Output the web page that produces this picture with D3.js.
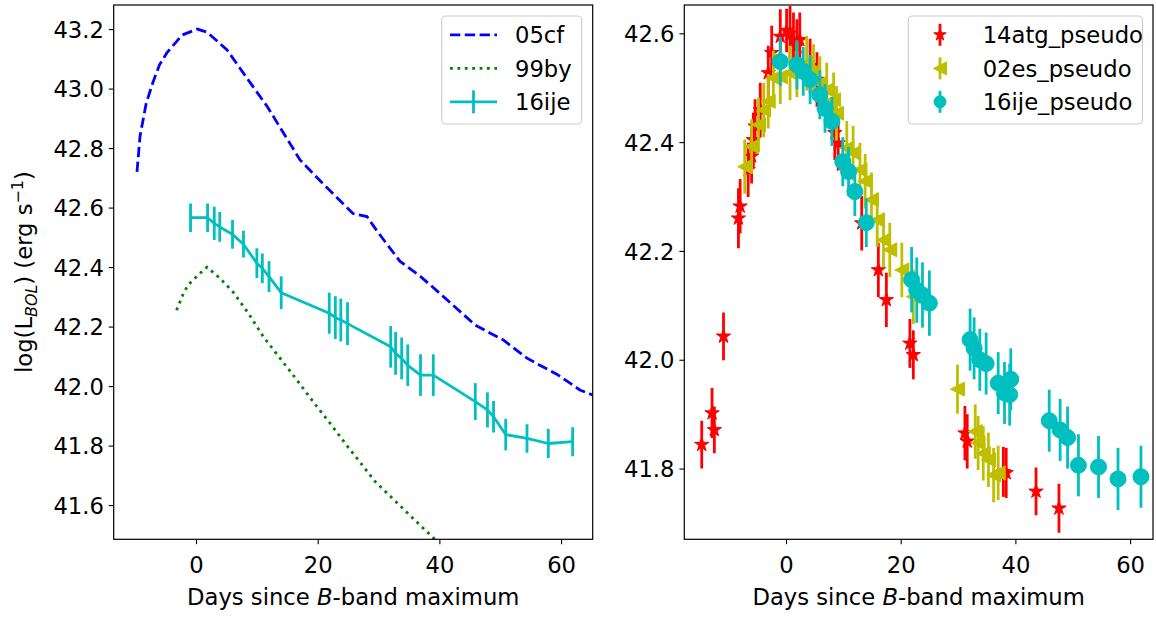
<!DOCTYPE html>
<html>
<head>
<meta charset="utf-8">
<script src="https://cdn.jsdelivr.net/npm/d3@7"></script>
<style>
body { margin: 0; background: #fff; }
text { font-family: "DejaVu Sans", sans-serif; }
</style>
</head>
<body>
<div id="chart"></div>
<script>
var W = 1156, H = 618;

// left panel: model / observed bolometric light curves
var days05cf = [-9.7, -9.2, -8.2, -7.1, -6.0, -4.8, -2.3, 0.2, 1.8, 5.1, 8.9, 11.7, 17.1, 20.4, 25.8, 28.1, 29.8, 33.5, 36.8, 38.5, 41.8, 45.9, 50.5, 54.4, 56.5, 59.3, 63.1, 65.2];
var lum05cf = [42.72, 42.84, 42.95, 43.02, 43.08, 43.12, 43.18, 43.20, 43.19, 43.13, 43.02, 42.94, 42.76, 42.69, 42.58, 42.57, 42.52, 42.42, 42.37, 42.34, 42.28, 42.205, 42.155, 42.094, 42.07, 42.04, 41.987, 41.97];

var days99by = [-3.2, -2.1, -1.3, 0.7, 1.8, 3.9, 6.1, 8.6, 11.1, 13.8, 16.6, 19.3, 22.0, 24.8, 27.5, 29.4, 36.8, 39.0, 41.0];
var lum99by = [42.255, 42.31, 42.34, 42.38, 42.40, 42.363, 42.316, 42.245, 42.165, 42.094, 42.02, 41.946, 41.876, 41.80, 41.73, 41.68, 41.533, 41.49, 41.45];

var days16ije = [-0.9, 1.9, 3.0, 3.9, 6.0, 7.8, 10.0, 10.9, 12.0, 14.0, 21.9, 22.9, 23.8, 24.9, 32.0, 32.8, 33.8, 34.8, 36.9, 39.0, 45.9, 47.9, 48.9, 50.9, 54.4, 57.9, 61.9];
var lum16ije = [42.566, 42.566, 42.547, 42.535, 42.51, 42.477, 42.413, 42.396, 42.368, 42.314, 42.245, 42.23, 42.222, 42.21, 42.132, 42.11, 42.093, 42.07, 42.037, 42.037, 41.948, 41.92, 41.897, 41.837, 41.824, 41.807, 41.813];
var err16ije = [0.048, 0.048, 0.056, 0.050, 0.048, 0.045, 0.050, 0.050, 0.052, 0.055, 0.069, 0.072, 0.072, 0.072, 0.070, 0.072, 0.070, 0.070, 0.070, 0.070, 0.062, 0.059, 0.053, 0.053, 0.048, 0.049, 0.049];

// right panel: pseudo-bolometric points
var days14atg = [-14.7, -12.9, -12.5, -10.9, -8.3, -8.0, -6.6, -6.0, -5.7, -5.4, -4.5, -3.1, -2.5, -1.0, 0.1, 0.7, 1.3, 1.9, 2.4, 4.2, 5.4, 8.5, 9.1, 13.2, 16.1, 17.5, 21.6, 22.2, 31.2, 31.6, 37.9, 38.4, 43.6, 47.6];
var lum14atg = [41.844, 41.902, 41.871, 42.043, 42.26, 42.282, 42.349, 42.374, 42.404, 42.429, 42.459, 42.527, 42.564, 42.594, 42.605, 42.60, 42.588, 42.576, 42.588, 42.54, 42.515, 42.417, 42.398, 42.251, 42.165, 42.11, 42.03, 42.009, 41.865, 41.85, 41.794, 41.792, 41.758, 41.727];
var err14atg = [0.044, 0.046, 0.043, 0.044, 0.055, 0.05, 0.05, 0.05, 0.05, 0.05, 0.05, 0.05, 0.05, 0.05, 0.04, 0.05, 0.05, 0.05, 0.05, 0.05, 0.05, 0.05, 0.05, 0.05, 0.05, 0.05, 0.045, 0.045, 0.05, 0.05, 0.046, 0.046, 0.044, 0.045];

var days02es = [-7.2, -6.0, -4.8, -3.9, -3.1, -2.2, -1.0, 0.7, 1.9, 3.6, 4.8, 5.9, 7.1, 8.3, 8.8, 10.6, 11.7, 12.9, 13.8, 14.9, 15.9, 17.0, 18.1, 20.2, 22.2, 29.9, 33.0, 33.5, 34.4, 35.3, 36.2, 37.0];
var lum02es = [42.355, 42.392, 42.432, 42.459, 42.475, 42.518, 42.52, 42.527, 42.533, 42.545, 42.53, 42.508, 42.496, 42.478, 42.453, 42.389, 42.38, 42.349, 42.328, 42.294, 42.257, 42.22, 42.202, 42.165, 42.116, 41.946, 41.868, 41.847, 41.828, 41.816, 41.788, 41.792];
var err02es = [0.05, 0.05, 0.05, 0.05, 0.05, 0.05, 0.05, 0.05, 0.05, 0.05, 0.05, 0.05, 0.05, 0.05, 0.05, 0.05, 0.05, 0.05, 0.05, 0.05, 0.05, 0.05, 0.05, 0.05, 0.05, 0.045, 0.05, 0.05, 0.05, 0.05, 0.05, 0.05];

var days16ijeP = [-1.0, 1.9, 3.0, 4.2, 5.9, 6.8, 8.0, 9.9, 10.9, 12.0, 14.0, 21.9, 22.8, 23.8, 25.0, 32.1, 32.8, 33.8, 34.9, 37.0, 38.1, 39.0, 39.2, 45.9, 47.8, 49.1, 51.0, 54.5, 57.9, 61.9];
var lum16ijeP = [42.548, 42.542, 42.53, 42.515, 42.487, 42.462, 42.438, 42.364, 42.346, 42.309, 42.252, 42.147, 42.128, 42.119, 42.104, 42.037, 42.021, 42.0, 41.993, 41.957, 41.939, 41.936, 41.964, 41.888, 41.871, 41.857, 41.806, 41.803, 41.781, 41.785];
var err16ijeP = [0.045, 0.045, 0.045, 0.045, 0.045, 0.045, 0.045, 0.045, 0.045, 0.045, 0.045, 0.06, 0.06, 0.06, 0.06, 0.057, 0.057, 0.057, 0.057, 0.057, 0.057, 0.057, 0.057, 0.057, 0.057, 0.057, 0.057, 0.057, 0.057, 0.057];

var xTicks = [0, 20, 40, 60];
var yTicksLeft = [41.6, 41.8, 42.0, 42.2, 42.4, 42.6, 42.8, 43.0, 43.2];
var yTicksRight = [41.8, 42.0, 42.2, 42.4, 42.6];
var legendLeft = ['05cf', '99by', '16ije'];
var legendRight = ['14atg_pseudo', '02es_pseudo', '16ije_pseudo'];

var FS = 22.7;
var LW = 2.8;

var svg = d3.select('#chart').append('svg')
	.attr('width', W)
	.attr('height', H);
svg.append('rect').attr('width', W).attr('height', H).attr('fill', '#fff');

var boxL = {x0: 113.7, x1: 592.7, y0: 5, y1: 539.3};
var boxR = {x0: 684.3, x1: 1153, y0: 5, y1: 539.3};

var xL = d3.scaleLinear().domain([-13.53, 65.2]).range([boxL.x0, boxL.x1]);
var yL = d3.scaleLinear().domain([41.485, 43.281]).range([boxL.y1, boxL.y0]);
var xR = d3.scaleLinear().domain([-17.74, 64.0]).range([boxR.x0, boxR.x1]);
var yR = d3.scaleLinear().domain([41.670, 42.652]).range([boxR.y1, boxR.y0]);

function zip(a, b, c) {
	return a.map(function(d, i) { return {x: d, y: b[i], e: c ? c[i] : 0}; });
}

function clip(id, box) {
	svg.append('clipPath').attr('id', id)
		.append('rect')
		.attr('x', box.x0).attr('y', box.y0)
		.attr('width', box.x1 - box.x0).attr('height', box.y1 - box.y0);
	return svg.append('g').attr('clip-path', 'url(#' + id + ')');
}

function drawAxes(box, x, y, yTicks) {
	var gx = svg.append('g')
		.attr('transform', 'translate(0,' + box.y1 + ')')
		.call(d3.axisBottom(x).tickValues(xTicks).tickSize(4.9).tickPadding(12.7).tickFormat(d3.format('d')));
	var gy = svg.append('g')
		.attr('transform', 'translate(' + box.x0 + ',0)')
		.call(d3.axisLeft(y).tickValues(yTicks).tickSize(4.9).tickPadding(4.9).tickFormat(d3.format('.1f')));
	[gx, gy].forEach(function(g) {
		g.select('.domain').remove();
		g.selectAll('line').attr('stroke', '#000').attr('stroke-width', 1.1);
		g.selectAll('text').attr('font-size', FS).attr('font-family', '"DejaVu Sans", sans-serif').attr('fill', '#000');
	});
	gy.selectAll('text').attr('dy', '0.36em');

	svg.append('rect')
		.attr('x', box.x0).attr('y', box.y0)
		.attr('width', box.x1 - box.x0).attr('height', box.y1 - box.y0)
		.attr('fill', 'none').attr('stroke', '#000').attr('stroke-width', 1.2);

	var lab = svg.append('text')
		.attr('x', (box.x0 + box.x1) / 2).attr('y', 605)
		.attr('text-anchor', 'middle').attr('font-size', FS);
	lab.append('tspan').text('Days since ');
	lab.append('tspan').attr('font-style', 'italic').text('B');
	lab.append('tspan').text('-band maximum');
}

function starPath(R) {
	var pts = [];
	for (var i = 0; i < 10; i++) {
		var r = i % 2 === 0 ? R : R * 0.381966;
		var a = -Math.PI / 2 + i * Math.PI / 5;
		pts.push([r * Math.cos(a), r * Math.sin(a)]);
	}
	return 'M' + pts.join('L') + 'Z';
}
function triLeftPath(R) {
	return 'M' + (-R) + ',0L' + R + ',' + (-R) + 'L' + R + ',' + R + 'Z';
}
function circlePath(R) {
	return 'M' + R + ',0A' + R + ',' + R + ' 0 1,1 ' + (-R) + ',0A' + R + ',' + R + ' 0 1,1 ' + R + ',0Z';
}

function errorSeries(g, data, x, y, color, marker) {
	g.append('g').selectAll('line')
		.data(data)
		.enter()
		.append('line')
		.attr('x1', function(d) { return x(d.x); })
		.attr('x2', function(d) { return x(d.x); })
		.attr('y1', function(d) { return y(d.y - d.e); })
		.attr('y2', function(d) { return y(d.y + d.e); })
		.attr('stroke', color)
		.attr('stroke-width', LW);
	if (marker) {
		g.append('g').selectAll('path')
			.data(data)
			.enter()
			.append('path')
			.attr('d', marker)
			.attr('transform', function(d) { return 'translate(' + x(d.x) + ',' + y(d.y) + ')'; })
			.attr('fill', color)
			.attr('stroke', color)
			.attr('stroke-width', 1);
	}
}

// ---- left panel ----
var gL = clip('clipL', boxL);
var lineL = d3.line().x(function(d) { return xL(d.x); }).y(function(d) { return yL(d.y); });

gL.append('path')
	.attr('d', lineL(zip(days05cf, lum05cf)))
	.attr('fill', 'none').attr('stroke', '#0000ff').attr('stroke-width', LW)
	.attr('stroke-dasharray', '10.3,4.5');

gL.append('path')
	.attr('d', lineL(zip(days99by, lum99by)))
	.attr('fill', 'none').attr('stroke', '#008000').attr('stroke-width', LW)
	.attr('stroke-dasharray', '2.8,4.6');

var d16 = zip(days16ije, lum16ije, err16ije);
gL.append('path')
	.attr('d', lineL(d16))
	.attr('fill', 'none').attr('stroke', '#00bfbf').attr('stroke-width', LW)
	.attr('stroke-linejoin', 'round');
errorSeries(gL, d16, xL, yL, '#00bfbf', null);

drawAxes(boxL, xL, yL, yTicksLeft);

// ---- right panel ----
var gR = clip('clipR', boxR);
errorSeries(gR, zip(days14atg, lum14atg, err14atg), xR, yR, '#ff0000', starPath(7.5));
errorSeries(gR, zip(days02es, lum02es, err02es), xR, yR, '#bfbf00', triLeftPath(7));
errorSeries(gR, zip(days16ijeP, lum16ijeP, err16ijeP), xR, yR, '#00bfbf', circlePath(8));

drawAxes(boxR, xR, yR, yTicksRight);

// y label
var yl = svg.append('text')
	.attr('transform', 'translate(32,' + ((boxL.y0 + boxL.y1) / 2) + ') rotate(-90)')
	.attr('text-anchor', 'middle')
	.attr('font-size', FS);
yl.append('tspan').text('log(L');
yl.append('tspan').attr('font-size', FS * 0.7).attr('font-style', 'italic').attr('dy', 5).text('BOL');
yl.append('tspan').attr('dy', -5).text(') (erg s');
yl.append('tspan').attr('font-size', FS * 0.7).attr('dy', -9).text('\u22121');
yl.append('tspan').attr('dy', 9).text(')');

// ---- legends ----
var rowY = [34.8, 68.4, 101.8];

function legendBox(x0, x1) {
	svg.append('rect')
		.attr('x', x0).attr('y', 16)
		.attr('width', x1 - x0).attr('height', 108)
		.attr('rx', 4)
		.attr('fill', '#fff').attr('fill-opacity', 0.8)
		.attr('stroke', '#cccccc').attr('stroke-width', 1.1);
}

legendBox(441.7, 581.7);
var lg = svg.append('g');
lg.append('line').attr('x1', 450).attr('x2', 497).attr('y1', rowY[0]).attr('y2', rowY[0])
	.attr('stroke', '#0000ff').attr('stroke-width', LW).attr('stroke-dasharray', '10.3,4.5');
lg.append('line').attr('x1', 450).attr('x2', 497).attr('y1', rowY[1]).attr('y2', rowY[1])
	.attr('stroke', '#008000').attr('stroke-width', LW).attr('stroke-dasharray', '2.8,4.6');
lg.append('line').attr('x1', 450).attr('x2', 497).attr('y1', rowY[2]).attr('y2', rowY[2])
	.attr('stroke', '#00bfbf').attr('stroke-width', LW);
lg.append('line').attr('x1', 473.5).attr('x2', 473.5).attr('y1', rowY[2] - 11.5).attr('y2', rowY[2] + 11.5)
	.attr('stroke', '#00bfbf').attr('stroke-width', LW);
lg.selectAll('text')
	.data(legendLeft)
	.enter()
	.append('text')
	.attr('x', 515)
	.attr('y', function(d, i) { return rowY[i]; })
	.attr('dy', '0.36em')
	.attr('font-size', FS)
	.text(function(d) { return d; });

legendBox(908.3, 1142.5);
var rg = svg.append('g');
var rColors = ['#ff0000', '#bfbf00', '#00bfbf'];
var rMarkers = [starPath(6.5), triLeftPath(6.5), circlePath(6)];
rColors.forEach(function(c, i) {
	rg.append('line').attr('x1', 940).attr('x2', 940).attr('y1', rowY[i] - 11).attr('y2', rowY[i] + 11)
		.attr('stroke', c).attr('stroke-width', LW);
	rg.append('path').attr('d', rMarkers[i])
		.attr('transform', 'translate(940,' + rowY[i] + ')')
		.attr('fill', c).attr('stroke', c).attr('stroke-width', 1);
});
rg.selectAll('text')
	.data(legendRight)
	.enter()
	.append('text')
	.attr('x', 982.7)
	.attr('y', function(d, i) { return rowY[i]; })
	.attr('dy', '0.36em')
	.attr('font-size', FS)
	.text(function(d) { return d; });
</script>
</body>
</html>
